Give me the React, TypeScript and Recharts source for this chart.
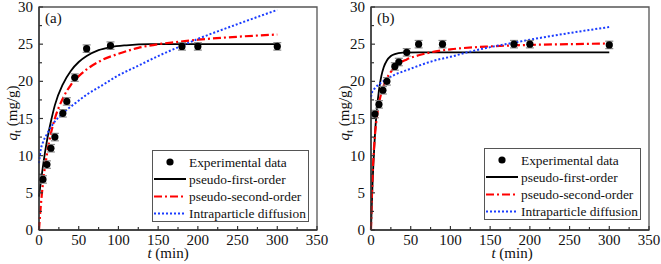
import React from 'react'
import {
  ComposedChart, Line, Scatter, XAxis, YAxis, ReferenceArea, ErrorBar,
} from 'recharts'

// ── Data ─────────────────────────────────────────────────────────────────────

const X_TICKS = [0, 25, 50, 75, 100, 125, 150, 175, 200, 225, 250, 275, 300, 325, 350]
const Y_TICKS = [0, 2.5, 5, 7.5, 10, 12.5, 15, 17.5, 20, 22.5, 25, 27.5, 30]
const SERIES = ['Experimental data', 'pseudo-first-order', 'pseudo-second-order', 'Intraparticle diffusion']

// panel (a)
const expTA = [5, 10, 15, 20, 30, 35, 45, 60, 90, 180, 200, 300]
const expQA = [6.8, 8.8, 11.0, 12.5, 15.7, 17.3, 20.5, 24.4, 24.8, 24.7, 24.7, 24.7]
const expEA = [0.5, 0.5, 0.5, 0.5, 0.5, 0.5, 0.5, 0.5, 0.5, 0.5, 0.5, 0.5]
const pfoA = [[0, 4.5], [2, 6.2], [5, 8.6], [10, 12.0], [15, 14.6], [20, 16.8], [30, 19.6], [40, 21.4],
  [50, 22.6], [60, 23.4], [75, 24.2], [90, 24.6], [110, 24.85], [140, 25.0], [200, 25.0], [300, 25.0]]
const psoA = [[0, 0], [1, 1.5], [2, 2.9], [5, 6.3], [10, 10.2], [15, 13.0], [20, 15.0], [30, 17.7],
  [40, 19.5], [50, 20.7], [60, 21.6], [80, 22.9], [100, 23.7], [125, 24.5], [150, 25.0], [175, 25.3],
  [200, 25.6], [250, 26.0], [300, 26.3]]
const ipdA = [[0, 9.0], [2, 10.7], [5, 11.8], [10, 12.9], [20, 14.6], [30, 15.7], [45, 17.0], [60, 18.2],
  [80, 19.5], [100, 20.8], [125, 22.1], [150, 23.4], [180, 24.8], [200, 25.7], [250, 27.7], [300, 29.6]]

// panel (b)
const expTB = [5, 10, 15, 20, 30, 35, 45, 60, 90, 180, 200, 300]
const expQB = [15.6, 16.9, 18.8, 20.0, 22.0, 22.6, 23.9, 25.0, 25.0, 25.0, 25.0, 24.9]
const expEB = [0.5, 0.5, 0.5, 0.5, 0.5, 0.5, 0.5, 0.5, 0.5, 0.5, 0.5, 0.5]
const pfoB = [[0, 0], [1, 3.4], [2, 6.4], [3, 8.9], [5, 12.9], [7, 15.8], [10, 18.8], [13, 20.7],
  [16, 21.9], [20, 22.8], [25, 23.4], [30, 23.67], [40, 23.85], [60, 23.9], [300, 23.9]]
const psoB = [[0, 0], [1, 4.25], [2, 7.3], [3, 9.6], [5, 12.75], [7, 14.9], [10, 17.0], [15, 19.1],
  [20, 20.4], [30, 21.9], [45, 22.95], [60, 23.5], [80, 24.0], [100, 24.3], [150, 24.7], [200, 24.9],
  [250, 25.0], [300, 25.1]]
const ipdB = [[0, 17.9], [1, 18.4], [3, 18.8], [5, 19.1], [10, 19.6], [20, 20.3], [30, 20.9], [45, 21.5],
  [60, 22.1], [80, 22.8], [100, 23.3], [125, 24.0], [150, 24.6], [180, 25.2], [200, 25.6], [250, 26.5],
  [300, 27.3]]

// ── Styling ──────────────────────────────────────────────────────────────────

const FONT = 'Liberation Serif, Times New Roman, DejaVu Serif, serif'
const AXIS = '#333'
const RED = '#ff0000'
const BLUE = '#1a3cff'
const toPts = (arr: number[][]) => arr.map(([t, q]) => ({ t, q }))
const txt: React.CSSProperties = { fontFamily: FONT }

function XTick(props: any) {
  const { x, y, payload } = props
  const major = payload.value % 50 === 0
  return (
    <g>
      <line x1={x} x2={x} y1={y} y2={y - (major ? 4 : 3)} stroke={AXIS} strokeWidth={1.2} />
      {major && (
        <text x={x} y={y + 14.5} textAnchor="middle" fontSize={15} style={txt} fill="#111">
          {payload.value}
        </text>
      )}
    </g>
  )
}

function YTick(props: any) {
  const { x, y, payload } = props
  const major = payload.value % 5 === 0
  return (
    <g>
      <line x1={x} x2={x + (major ? 4 : 3)} y1={y} y2={y} stroke={AXIS} strokeWidth={1.2} />
      {major && (
        <text x={x - 6} y={y + 5} textAnchor="end" fontSize={15} style={txt} fill="#111">
          {payload.value}
        </text>
      )}
    </g>
  )
}

function LegendBox({ left, top }: { left: number; top: number }) {
  const rows = [11, 28, 45.5, 62.5]
  return (
    <div style={{ position: 'absolute', left, top, border: '1px solid #555', background: '#fff', width: 155, height: 70 }}>
      <svg width={155} height={70} style={{ display: 'block' }}>
        <circle cx={17} cy={rows[0]} r={3.6} fill="#000" />
        <line x1={1} x2={33} y1={rows[1]} y2={rows[1]} stroke="#000" strokeWidth={2} />
        <line x1={1} x2={33} y1={rows[2]} y2={rows[2]} stroke={RED} strokeWidth={2.2} strokeDasharray="8 3 2 3" />
        <line x1={1} x2={33} y1={rows[3]} y2={rows[3]} stroke={BLUE} strokeWidth={2} strokeDasharray="2 2" />
        {SERIES.map((s, i) => (
          <text key={s} x={36} y={rows[i] + 4.5} fontSize={13.4} style={txt} fill="#111">{s}</text>
        ))}
      </svg>
    </div>
  )
}

function Panel({ width, left, tag, labelX, legendTop, legendLeft, exp, pfo, pso, ipd }: any) {
  const right = width - left - 30 - 278
  return (
    <div style={{ position: 'relative', width, height: 264 }}>
      <ComposedChart width={width} height={264} margin={{ top: 7, right, bottom: 12, left }}>
        <XAxis dataKey="t" type="number" domain={[0, 350]} ticks={X_TICKS} interval={0}
          tickSize={0} tickMargin={0} tickLine={false} tick={<XTick />} height={22}
          axisLine={{ stroke: AXIS, strokeWidth: 1.4 }} />
        <YAxis type="number" domain={[0, 30]} ticks={Y_TICKS} interval={0}
          tickSize={0} tickMargin={0} tickLine={false} tick={<YTick />} width={30}
          axisLine={{ stroke: AXIS, strokeWidth: 1.4 }} />
        <ReferenceArea x1={0} x2={350} y1={0} y2={30} fill="none" stroke="#555" strokeWidth={1.3} />
        <Line data={toPts(pfo)} dataKey="q" name={SERIES[1]} type="monotone" stroke="#000"
          strokeWidth={1.8} dot={false} isAnimationActive={false} />
        <Line data={toPts(pso)} dataKey="q" name={SERIES[2]} type="monotone" stroke={RED}
          strokeWidth={2.2} strokeDasharray="8 3 2 3" dot={false} isAnimationActive={false} />
        <Line data={toPts(ipd)} dataKey="q" name={SERIES[3]} type="monotone" stroke={BLUE}
          strokeWidth={2} strokeDasharray="2 2" dot={false} isAnimationActive={false} />
        <Scatter data={exp} dataKey="q" name={SERIES[0]} isAnimationActive={false}
          shape={(p: any) => <circle cx={p.cx} cy={p.cy} r={3.6} fill="#000" />}>
          <ErrorBar dataKey="e" direction="y" width={4} stroke="#888" strokeWidth={1.2} isAnimationActive={false} />
        </Scatter>
      </ComposedChart>
      <LegendBox left={legendLeft} top={legendTop} />
      <svg width={width} height={264} style={{ position: 'absolute', left: 0, top: 0, pointerEvents: 'none' }}>
        <text x={left + 36} y={23} fontSize={15} style={txt} fill="#111">{tag}</text>
        <text x={labelX} y={258} textAnchor="middle" fontSize={15} style={txt} fill="#111">
          <tspan fontStyle="italic">t</tspan> (min)
        </text>
        <text transform={`translate(${left + 8}, 113) rotate(-90)`} textAnchor="middle" fontSize={15} style={txt} fill="#111">
          <tspan fontStyle="italic">q</tspan><tspan fontSize={11} dy={4}>t</tspan><tspan dy={-4}> (mg/g)</tspan>
        </text>
      </svg>
    </div>
  )
}

const mk = (ts: number[], qs: number[], es: number[]) => ts.map((t, i) => ({ t, q: qs[i], e: es[i] }))

export default function App() {
  return (
    <div style={{ position: 'absolute', left: 0, top: 0, width: 661, height: 264, background: '#fff', display: 'flex' }}>
      <Panel width={330} left={9} tag="(a)" labelX={168} legendLeft={152} legendTop={150}
        exp={mk(expTA, expQA, expEA)} pfo={pfoA} pso={psoA} ipd={ipdA} />
      <Panel width={331} left={11} tag="(b)" labelX={182} legendLeft={154} legendTop={148}
        exp={mk(expTB, expQB, expEB)} pfo={pfoB} pso={psoB} ipd={ipdB} />
    </div>
  )
}
